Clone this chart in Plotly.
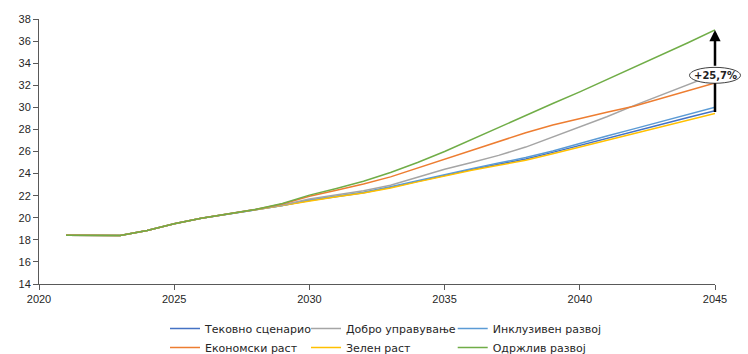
import plotly.graph_objects as go

years = list(range(2021, 2046))

base = [18.42, 18.43, 18.40, 18.85, 19.45, 19.95, 20.35, 20.75]

tekovno = base + [21.10, 21.57, 21.92, 22.27, 22.75, 23.30, 23.87, 24.37, 24.85, 25.32,
                  25.92, 26.57, 27.20, 27.82, 28.45, 29.07, 29.70]
dobro = base + [21.15, 21.70, 22.05, 22.45, 22.95, 23.65, 24.40, 25.00, 25.65, 26.40,
                27.30, 28.20, 29.15, 30.15, 31.10, 32.05, 33.00]
inkluziven = base + [21.10, 21.60, 21.95, 22.30, 22.80, 23.35, 23.95, 24.45, 24.95, 25.45,
                     26.05, 26.75, 27.40, 28.05, 28.70, 29.35, 30.00]
ekonomski = base + [21.25, 21.95, 22.50, 23.05, 23.70, 24.50, 25.30, 26.10, 26.90, 27.70,
                    28.40, 29.00, 29.55, 30.10, 30.80, 31.50, 32.20]
zelen = base + [21.10, 21.55, 21.90, 22.25, 22.70, 23.25, 23.80, 24.30, 24.75, 25.20,
                25.80, 26.40, 27.00, 27.60, 28.20, 28.80, 29.45]
odrzliv = base + [21.30, 22.05, 22.65, 23.30, 24.10, 25.00, 26.00, 27.10, 28.20, 29.30,
                  30.35, 31.40, 32.50, 33.60, 34.70, 35.85, 37.00]

names = ["Тековно сценарио", "Добро управување", "Инклузивен развој",
         "Економски раст", "Зелен раст", "Одржлив развој"]
series = [tekovno, dobro, inkluziven, ekonomski, zelen, odrzliv]
colors = ["#4472C4", "#A5A5A5", "#5B9BD5", "#ED7D31", "#FFC000", "#70AD47"]
legend_ids = ["legend", "legend2", "legend3", "legend", "legend2", "legend3"]

x_ticks = [2020, 2025, 2030, 2035, 2040, 2045]
y_ticks = list(range(14, 40, 2))
label_text = "+25,7%"

fig = go.Figure()
draw_order = [0, 2, 4, 1, 3, 5]
for i in draw_order:
    fig.add_trace(go.Scatter(
        x=years, y=series[i], mode="lines", name=names[i],
        line=dict(color=colors[i], width=1.5),
        legend=legend_ids[i], legendrank=i,
    ))

y_min, y_max = 14, 38
x_end = years[-1]
low_end = zelen[-1]
high_end = odrzliv[-1]
oval_c = 32.9
oval_half = 0.72

# arrow: lower segment (no head) and upper segment (with head)
fig.add_annotation(x=x_end, y=oval_c - oval_half, ax=x_end, ay=low_end,
                   xref="x", yref="y", axref="x", ayref="y", text="",
                   showarrow=True, arrowhead=0, arrowwidth=2.5, arrowcolor="black")
fig.add_annotation(x=x_end, y=high_end, ax=x_end, ay=oval_c + oval_half,
                   xref="x", yref="y", axref="x", ayref="y", text="",
                   showarrow=True, arrowhead=2, arrowsize=0.9, arrowwidth=2.5,
                   arrowcolor="black")

# oval label
to_py = lambda v: (v - y_min) / (y_max - y_min)
half_w = 25.5 / 676
fig.add_shape(type="circle", xref="paper", yref="paper",
              x0=1 - half_w, x1=1 + half_w,
              y0=to_py(oval_c - oval_half), y1=to_py(oval_c + oval_half),
              fillcolor="white", line=dict(color="#404040", width=1), layer="above")
fig.add_annotation(x=1, y=to_py(oval_c), xref="paper", yref="paper",
                   xanchor="center", yanchor="middle",
                   text="<b>" + label_text + "</b>", showarrow=False,
                   font=dict(family="DejaVu Sans", size=10, color="#222"))

legend_common = dict(orientation="v", yref="container", yanchor="top", y=0.113,
                     xanchor="left",
                     font=dict(family="DejaVu Sans", size=11, color="#262626"),
                     itemwidth=30, tracegroupgap=0, bgcolor="rgba(0,0,0,0)",
                     traceorder="normal")

fig.update_layout(
    width=748, height=354,
    margin=dict(l=39, r=33, t=19, b=70),
    plot_bgcolor="white", paper_bgcolor="white",
    font=dict(family="Liberation Sans", size=11, color="#262626"),
    legend=dict(x=0.1864, **legend_common),
    legend2=dict(x=0.395, **legend_common),
    legend3=dict(x=0.612, **legend_common),
    xaxis=dict(range=[2020, 2045], tickvals=x_ticks, showgrid=False, zeroline=False,
               showline=True, linecolor="#595959", linewidth=1, automargin=False,
               ticks="outside", ticklen=5, tickcolor="#595959",
               tickfont=dict(family="Liberation Sans", size=11, color="#262626")),
    yaxis=dict(range=[y_min, y_max], tickvals=y_ticks, showgrid=False, zeroline=False,
               showline=True, linecolor="#595959", linewidth=1, automargin=False,
               ticks="outside", ticklen=5, tickcolor="#595959",
               tickfont=dict(family="Liberation Sans", size=11, color="#262626")),
)

fig.write_html("out.html", config={"displayModeBar": False},
               post_script="document.body.style.margin='0';document.body.style.padding='0';")
